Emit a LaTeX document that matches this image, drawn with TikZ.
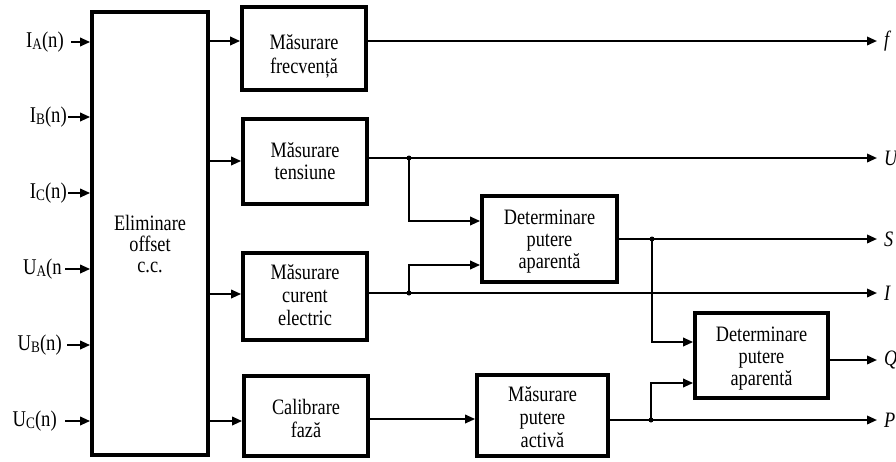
\documentclass[tikz,border=0pt]{standalone}
\usepackage{fontspec}
\setmainfont[FakeStretch=0.83]{Liberation Serif}
\usetikzlibrary{arrows.meta}
\newcommand{\mysub}[1]{\raisebox{-2.5pt}{\fontsize{16}{16}\selectfont #1}}
\begin{document}
\begin{tikzpicture}[x=1pt,y=-1pt,
  blk/.style={draw,line width=3.8pt,inner sep=0pt},
  txt/.style={inner sep=0pt,align=center,font=\fontsize{22}{23}\selectfont},
  arr/.style={line width=2pt,-{Triangle[length=10pt,width=8.5pt]}},
  lbl/.style={inner sep=0pt,font=\fontsize{22.5}{24}\selectfont},
  olbl/.style={inner sep=0pt,anchor=west,font=\fontsize{22}{24}\selectfont\itshape},
  jdot/.style={circle,fill,inner sep=0pt,minimum size=5pt}]
\useasboundingbox (0,0) rectangle (896,461);

% main blocks
\node[blk,minimum width=116pt,minimum height=443pt] (elim) at (150,233.5) {};
\node[blk,minimum width=124pt,minimum height=83pt] (frec) at (304,48.5) {};
\node[blk,minimum width=124pt,minimum height=85pt] (tens) at (305,161.5) {};
\node[blk,minimum width=124pt,minimum height=87pt] (cur) at (305,296.5) {};
\node[blk,minimum width=124pt,minimum height=80pt] (cal) at (306,416) {};
\node[blk,minimum width=131pt,minimum height=81pt] (act) at (542.5,415.5) {};
\node[blk,minimum width=135pt,minimum height=86pt] (det1) at (549.5,239) {};
\node[blk,minimum width=133pt,minimum height=85pt] (det2) at (761.5,355.5) {};

% block texts
\node[txt,font=\fontsize{22}{21}\selectfont] (elimt) at (150,244.4) {Eliminare\\offset\\c.c.};
\node[txt,font=\fontsize{22}{24}\selectfont] (frect) at (304,56.5) {Măsurare\\frecvență};
\node[txt,font=\fontsize{22}{22}\selectfont] (tenst) at (305,161.4) {Măsurare\\tensiune};
\node[txt] (curt) at (305,295) {Măsurare\\curent\\electric};
\node[txt] (calt) at (306,418.5) {Calibrare\\fază};
\node[txt] (actt) at (542.5,417) {Măsurare\\putere\\activă};
\node[txt,font=\fontsize{22}{22}\selectfont] (det1t) at (549.5,241.5) {Determinare\\putere\\aparentă};
\node[txt,font=\fontsize{22}{22}\selectfont] (det2t) at (761.5,358.5) {Determinare\\putere\\aparentă};

% input labels
\node[lbl,anchor=east] (ia) at (64,42) {I\mysub{A}(n)};
\node[lbl,anchor=east] (ib) at (67,117) {I\mysub{B}(n)};
\node[lbl,anchor=east] (ic) at (67,193) {I\mysub{C}(n)};
\node[lbl,anchor=east] (ua) at (62,269) {U\mysub{A}(n};
\node[lbl,anchor=east] (ub) at (62,345) {U\mysub{B}(n)};
\node[lbl,anchor=east] (uc) at (57,421) {U\mysub{C}(n)};

\draw[arr] ([xshift=7pt]ia.east) -- (elim.west |- ia.east);
\draw[arr] ([xshift=1pt]ib.east) -- (elim.west |- ib.east);
\draw[arr] ([xshift=1pt]ic.east) -- (elim.west |- ic.east);
\draw[arr] ([xshift=3pt]ua.east) -- (elim.west |- ua.east);
\draw[arr] ([xshift=5pt]ub.east) -- (elim.west |- ub.east);
\draw[arr] ([xshift=8pt]uc.east) -- (elim.west |- uc.east);

% output end points and labels
\coordinate (of) at (877,41);
\coordinate (ou) at (877,158);
\coordinate (os) at (877,239);
\coordinate (oi) at (877,293);
\coordinate (oq) at (877,360);
\coordinate (op) at (877,420);
\node[olbl] (lf) at (884,41) {f};
\node[olbl] (lu) at (884,158) {U};
\node[olbl] (ls) at (884,239) {S};
\node[olbl] (li) at (884,293) {I};
\node[olbl] (lq) at (884,360) {Q};
\node[olbl] (lp) at (884,420) {P};

% junctions
\node[jdot] (j1) at (409,158) {};
\node[jdot] (j2) at (409,293) {};
\node[jdot] (j3) at (652,239) {};
\node[jdot] (j4) at (651,420) {};

% connectors
\draw[arr] (elim.east |- 0,41) -- (frec.west |- 0,41);
\draw[arr] (frec.east |- 0,41) -- (of);
\draw[arr] (elim.east |- 0,161) -- (tens.west |- 0,161);
\draw[arr] (tens.east |- 0,158) -- (ou);
\draw[arr] (j1.center) |- (det1.west |- 0,221);
\draw[arr] (elim.east |- 0,294) -- (cur.west |- 0,294);
\draw[arr] (cur.east |- 0,293) -- (oi);
\draw[arr] (j2.center) |- (det1.west |- 0,265);
\draw[arr] (det1.east |- 0,239) -- (os);
\draw[arr] (j3.center) |- (det2.west |- 0,342);
\draw[arr] (det2.east |- 0,360) -- (oq);
\draw[arr] (elim.east |- 0,421) -- (cal.west |- 0,421);
\draw[arr] (cal.east |- 0,419) -- (act.west |- 0,419);
\draw[arr] (act.east |- 0,420) -- (op);
\draw[arr] (j4.center) |- (det2.west |- 0,383);
\end{tikzpicture}
\end{document}
